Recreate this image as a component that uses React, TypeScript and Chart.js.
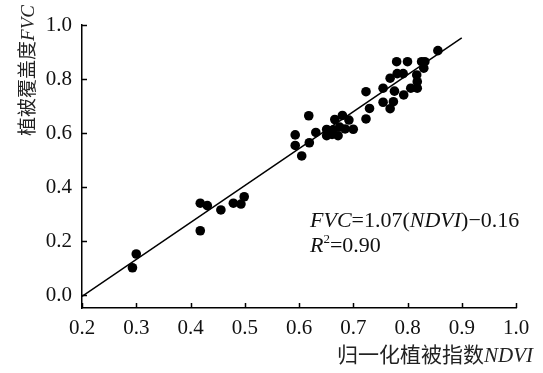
import React, { useEffect, useRef } from "react";
import { Chart, registerables } from "chart.js";

Chart.register(...registerables);

// Observed points: NDVI (x) vs FVC (y)
const ndvi = [
  0.293, 0.300, 0.418, 0.431, 0.418, 0.456, 0.479, 0.493, 0.499,
  0.593, 0.593, 0.605, 0.618, 0.619, 0.631, 0.651, 0.651, 0.661, 0.663,
  0.666, 0.672, 0.675, 0.680, 0.685, 0.692, 0.700, 0.7235, 0.7235, 0.730,
  0.755, 0.755, 0.768, 0.768, 0.774, 0.776, 0.780, 0.781, 0.792, 0.793,
  0.800, 0.806, 0.817, 0.818, 0.818, 0.826, 0.830, 0.832, 0.856,
];
const fvc = [
  0.101, 0.152, 0.340, 0.331, 0.238, 0.315, 0.340, 0.337, 0.364,
  0.593, 0.554, 0.515, 0.664, 0.564, 0.602, 0.613, 0.590, 0.595, 0.612,
  0.650, 0.590, 0.622, 0.665, 0.615, 0.648, 0.614, 0.753, 0.652, 0.691,
  0.766, 0.714, 0.803, 0.690, 0.716, 0.755, 0.864, 0.820, 0.820, 0.741,
  0.864, 0.766, 0.815, 0.790, 0.766, 0.864, 0.840, 0.864, 0.905,
];

// Fitted line as drawn
const fitX = [0.2, 0.9];
const fitY = [-0.005, 0.952];

const xTicks = [0.2, 0.3, 0.4, 0.5, 0.6, 0.7, 0.8, 0.9, 1.0];
const yTicks = [0.0, 0.2, 0.4, 0.6, 0.8, 1.0];

const SERIF = '"Liberation Serif", "Times New Roman", "Noto Sans CJK SC", serif';
const FS = 21;

type Run = { text: string; italic?: boolean; sup?: boolean };

function runFont(r: Run, fs: number) {
  const size = r.sup ? Math.round(fs * 0.6) : fs;
  return `${r.italic ? "italic " : ""}${size}px ${SERIF}`;
}

function runsWidth(ctx: CanvasRenderingContext2D, runs: Run[], fs: number) {
  let w = 0;
  for (const r of runs) {
    ctx.font = runFont(r, fs);
    w += ctx.measureText(r.text).width;
  }
  return w;
}

function drawRuns(ctx: CanvasRenderingContext2D, runs: Run[], x: number, y: number, fs: number) {
  let cx = x;
  ctx.textBaseline = "alphabetic";
  ctx.textAlign = "left";
  for (const r of runs) {
    ctx.font = runFont(r, fs);
    ctx.fillText(r.text, cx, r.sup ? y - fs * 0.42 : y);
    cx += ctx.measureText(r.text).width;
  }
}

const xTitle: Run[] = [{ text: "归一化植被指数" }, { text: "NDVI", italic: true }];
const yTitle: Run[] = [{ text: "植被覆盖度" }, { text: "FVC", italic: true }];
const eqLine: Run[] = [
  { text: "FVC", italic: true },
  { text: "=1.07(" },
  { text: "NDVI", italic: true },
  { text: ")\u22120.16" },
];
const r2Line: Run[] = [
  { text: "R", italic: true },
  { text: "2", sup: true },
  { text: "=0.90" },
];

const decorPlugin = {
  id: "decor",
  afterDraw(chart: any) {
    const ctx: CanvasRenderingContext2D = chart.ctx;
    const xs = chart.scales.x;
    const ys = chart.scales.y;
    const area = chart.chartArea;
    ctx.save();
    ctx.strokeStyle = "#000";
    ctx.lineWidth = 1.5;
    // inward ticks
    for (const v of xTicks) {
      const px = Math.round(xs.getPixelForValue(v)) + 0.5;
      ctx.beginPath();
      ctx.moveTo(px, area.bottom);
      ctx.lineTo(px, area.bottom - 5);
      ctx.stroke();
    }
    for (const v of yTicks) {
      const py = Math.round(ys.getPixelForValue(v)) + 0.5;
      ctx.beginPath();
      ctx.moveTo(area.left, py);
      ctx.lineTo(area.left + 5, py);
      ctx.stroke();
    }
    ctx.fillStyle = "#222";
    // x title, right end near 533
    const xw = runsWidth(ctx, xTitle, 21);
    drawRuns(ctx, xTitle, 533 - xw, 362, 21);
    // y title rotated, top end near y=5
    const yw = runsWidth(ctx, yTitle, 19);
    ctx.save();
    ctx.translate(34, 5 + yw);
    ctx.rotate(-Math.PI / 2);
    drawRuns(ctx, yTitle, 0, 0, 19);
    ctx.restore();
    // annotation
    ctx.fillStyle = "#111";
    drawRuns(ctx, eqLine, 310, 227, 22);
    drawRuns(ctx, r2Line, 310, 252, 22);
    ctx.restore();
  },
};

export default function App() {
  const ref = useRef<HTMLCanvasElement | null>(null);
  useEffect(() => {
    if (!ref.current) return;
    const chart = new Chart(ref.current, {
      type: "scatter",
      data: {
        datasets: [
          {
            data: ndvi.map((v, i) => ({ x: v, y: fvc[i] })),
            backgroundColor: "#000",
            borderWidth: 0,
            pointRadius: 4.8,
            pointHoverRadius: 4.8,
          },
          {
            type: "line",
            data: fitX.map((v, i) => ({ x: v, y: fitY[i] })),
            borderColor: "#000",
            borderWidth: 1.5,
            pointRadius: 0,
            showLine: true,
            fill: false,
          } as any,
        ],
      },
      options: {
        responsive: false,
        animation: false,
        devicePixelRatio: 1,
        layout: { padding: { left: 0, right: 27, top: 25, bottom: 0 } },
        plugins: { legend: { display: false }, tooltip: { enabled: false } },
        scales: {
          x: {
            type: "linear",
            min: 0.2,
            max: 1.0,
            afterBuildTicks: (s: any) => {
              s.ticks = xTicks.map((v) => ({ value: v }));
            },
            afterFit: (s: any) => {
              s.height = 65;
            },
            grid: { display: false, drawTicks: false },
            border: { display: true, color: "#000", width: 1.5 },
            ticks: {
              font: { family: SERIF, size: FS },
              color: "#111",
              padding: 8,
              maxRotation: 0,
              autoSkip: false,
              callback: (v: any) => Number(v).toFixed(1),
            },
          },
          y: {
            type: "linear",
            min: -0.048,
            max: 1.0,
            afterBuildTicks: (s: any) => {
              s.ticks = yTicks.map((v) => ({ value: v }));
            },
            afterFit: (s: any) => {
              s.width = 82;
            },
            grid: { display: false, drawTicks: false },
            border: { display: true, color: "#000", width: 1.5 },
            ticks: {
              font: { family: SERIF, size: FS },
              color: "#111",
              padding: 10,
              autoSkip: false,
              callback: (v: any) => Number(v).toFixed(1),
            },
          },
        },
      },
      plugins: [decorPlugin],
    });
    return () => chart.destroy();
  }, []);
  return (
    <div style={{ position: "absolute", left: 0, top: 0, width: 543, height: 373, background: "#fff" }}>
      <canvas ref={ref} width={543} height={373} />
    </div>
  );
}
